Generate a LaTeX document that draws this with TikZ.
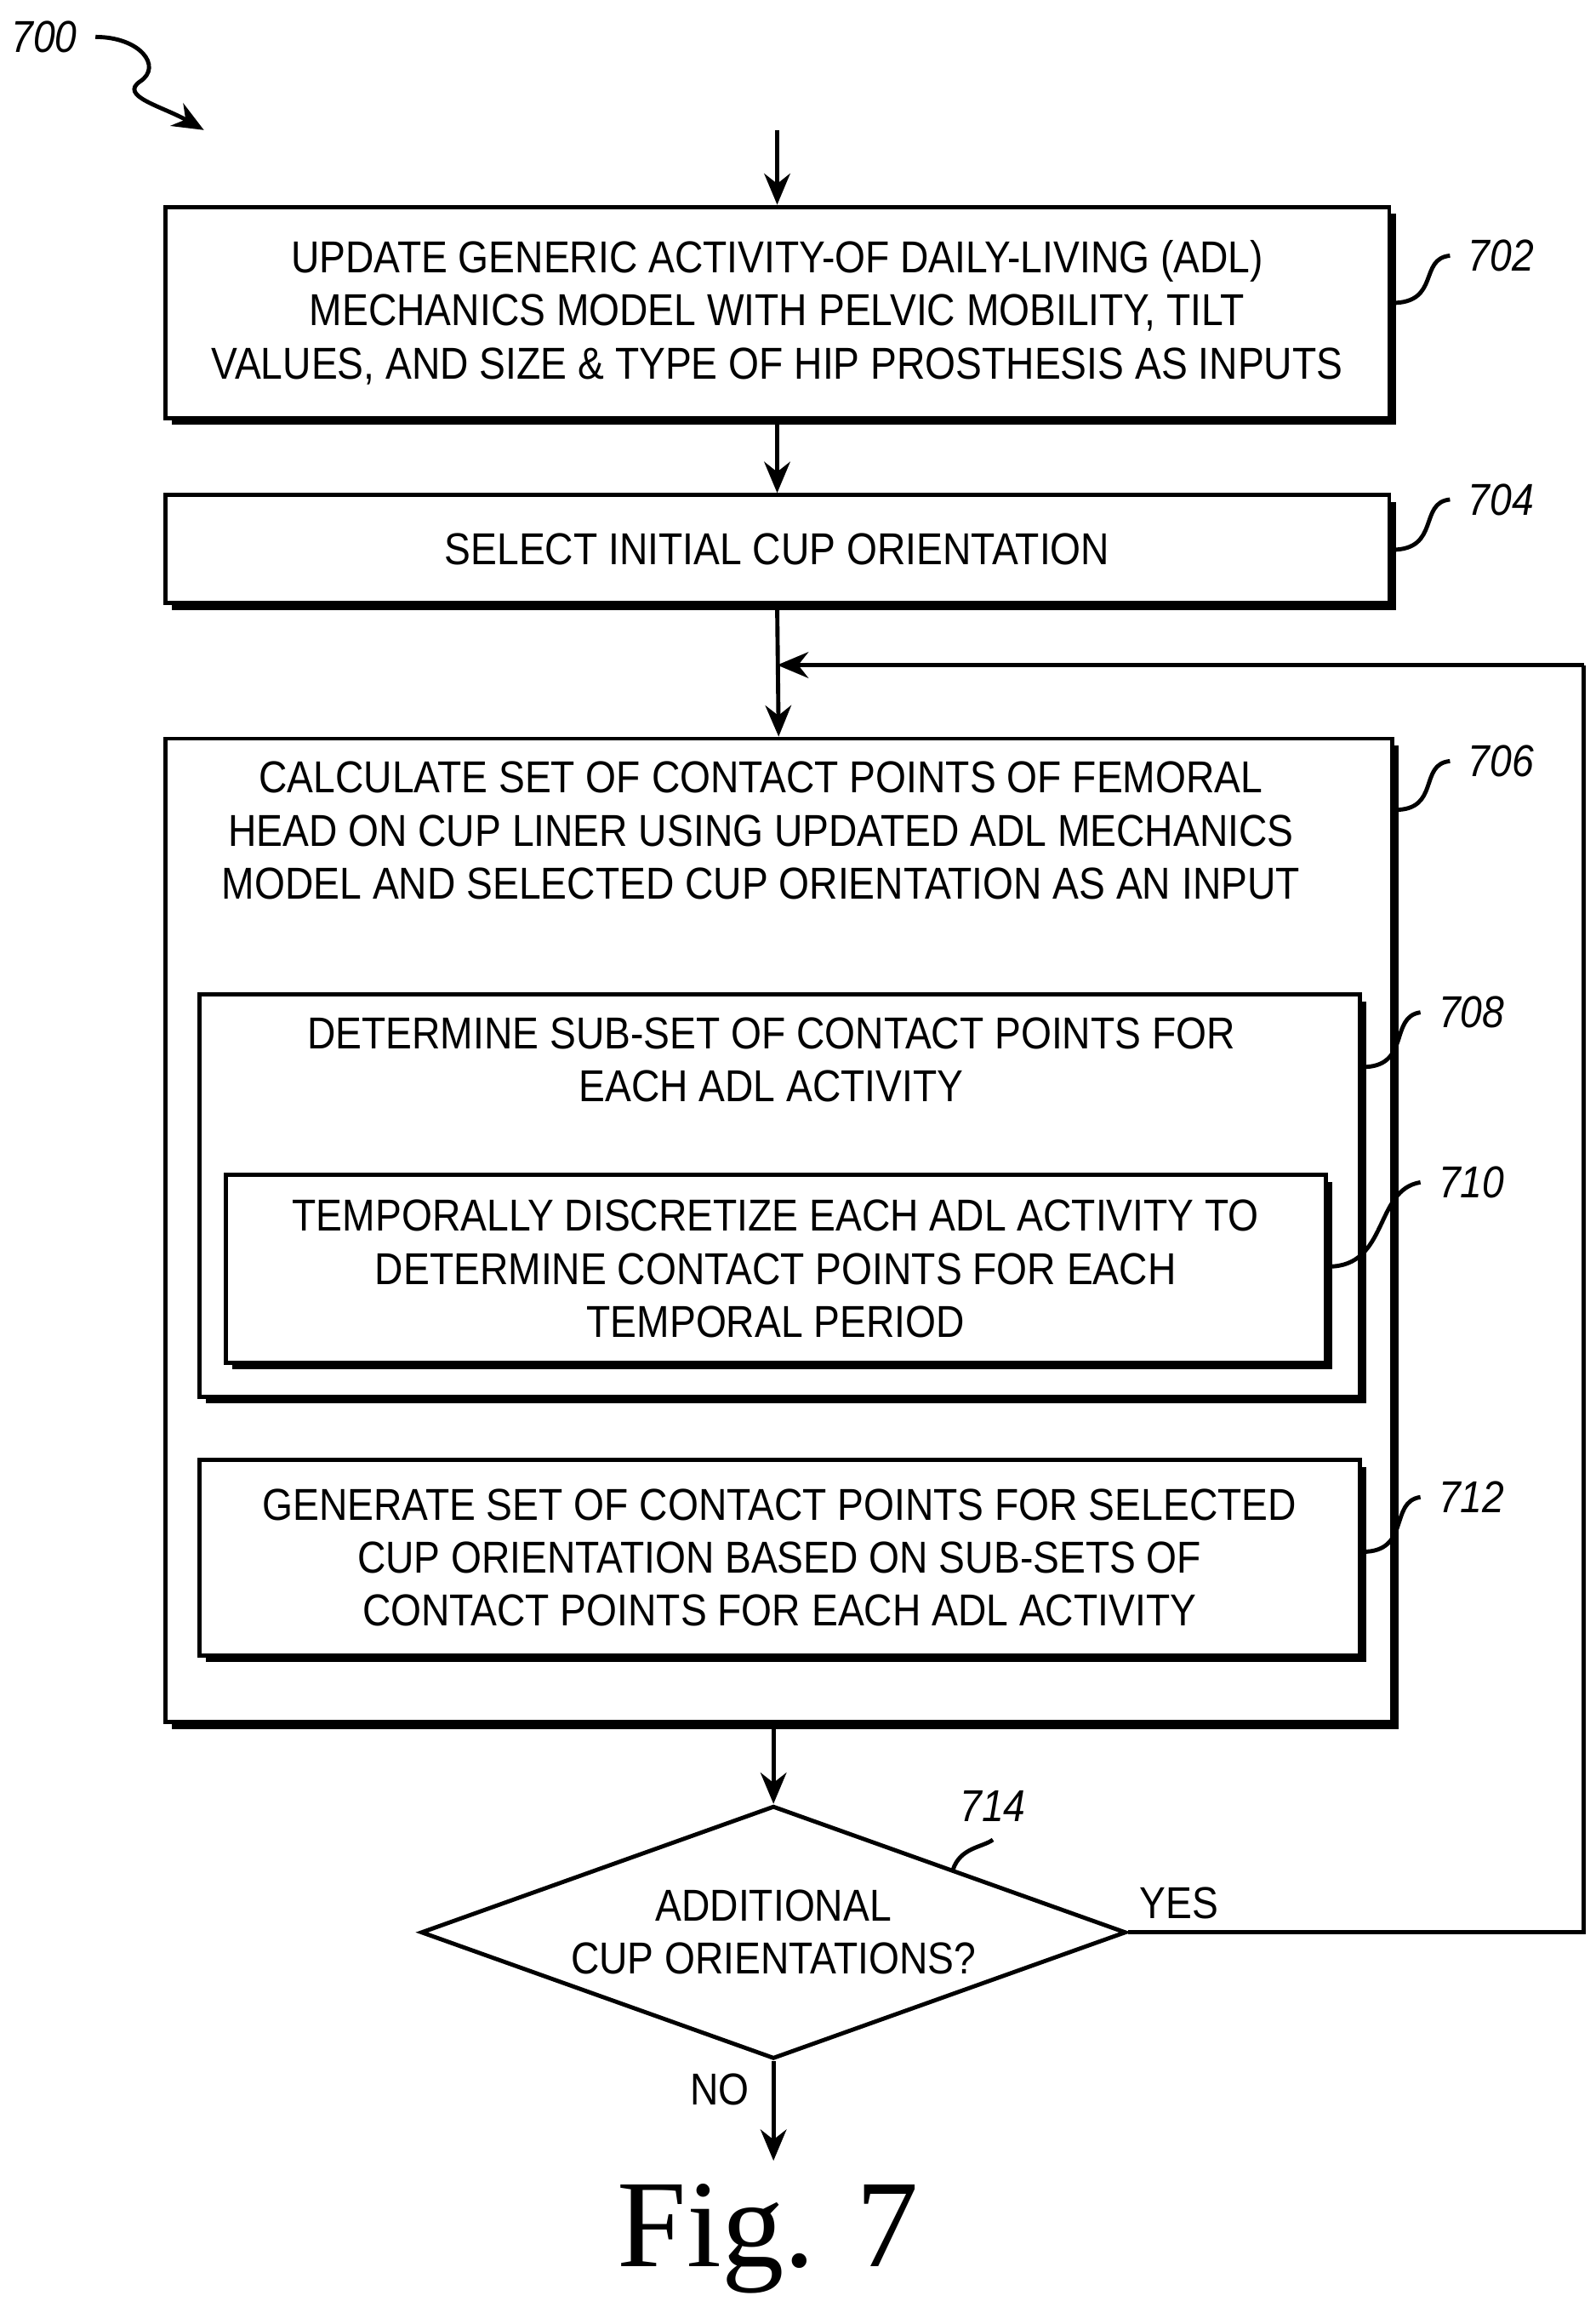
\documentclass[tikz,border=0pt]{standalone}
\usepackage{fontspec}
\setmainfont{Liberation Sans}[FakeStretch=0.88]
\newfontfamily\figfont{Liberation Serif}
\usetikzlibrary{shapes.geometric,shadows,arrows.meta}
\tikzset{
  box/.style={draw,thick,fill=white,rectangle,inner sep=0pt,
    drop shadow={shadow xshift=1.3pt,shadow yshift=-1.3pt,fill=black,opacity=1}},
  txt/.style={align=center,font=\fontsize{8.6}{10.2}\selectfont},
  ref/.style={font=\fontsize{8.6}{10}\selectfont\itshape},
  lead/.style={thick},
  flow/.style={thick,-{Stealth[length=6pt,width=5pt]}}
}
\begin{document}
\begin{tikzpicture}[x=0.01cm,y=-0.01cm]
\useasboundingbox (0,0) rectangle (1080,1561);
% boxes
\node[box,minimum width=8.28cm,minimum height=1.43cm] (b702) at (526,211.5) {};
\node[txt] at (b702) {UPDATE GENERIC ACTIVITY-OF DAILY-LIVING (ADL)\\MECHANICS MODEL WITH PELVIC MOBILITY, TILT\\VALUES, AND SIZE \& TYPE OF HIP PROSTHESIS AS INPUTS};
\node[box,minimum width=8.28cm,minimum height=0.73cm] (b704) at (526,371.5) {};
\node[txt] at (b704) {SELECT INITIAL CUP ORIENTATION};
\node[box,minimum width=8.30cm,minimum height=6.65cm] (b706) at (527,832.5) {};
\node[txt] (t706) at (515,562) {CALCULATE SET OF CONTACT POINTS OF FEMORAL\\HEAD ON CUP LINER USING UPDATED ADL MECHANICS\\MODEL AND SELECTED CUP ORIENTATION AS AN INPUT};
\node[box,minimum width=7.85cm,minimum height=2.72cm] (b708) at (527.5,809) {};
\node[txt] (t708) at (522,717) {DETERMINE SUB-SET OF CONTACT POINTS FOR\\EACH ADL ACTIVITY};
\node[box,minimum width=7.44cm,minimum height=1.27cm] (b710) at (525,858.5) {};
\node[txt] at (b710) {TEMPORALLY DISCRETIZE EACH ADL ACTIVITY TO\\DETERMINE CONTACT POINTS FOR EACH\\TEMPORAL PERIOD};
\node[box,minimum width=7.85cm,minimum height=1.32cm] (b712) at (527.5,1054) {};
\node[txt] at (b712) {GENERATE SET OF CONTACT POINTS FOR SELECTED\\CUP ORIENTATION BASED ON SUB-SETS OF\\CONTACT POINTS FOR EACH ADL ACTIVITY};
\node[diamond,draw,thick,minimum width=4.77cm,minimum height=1.71cm,inner sep=0pt] (d714) at (523.5,1307.5) {};
\node[txt] at (d714) {ADDITIONAL\\CUP ORIENTATIONS?};
% connectors
\coordinate (start) at (526,88);
\coordinate (loopin) at (526,450);
\coordinate (c1) at (1072,1307.5);
\coordinate (c2) at (1072,450);
\coordinate (endp) at (523.5,1462);
\draw[flow] (start) -- (b702.north);
\draw[flow] (b702.south) -- (b704.north);
\draw[flow] (b704.south) -- (b706.north);
\draw[flow] (b706.south -| d714.north) -- (d714.north);
\draw[thick] (d714.east) -- (c1) -- (c2);
\draw[flow] (c2) -- (loopin);
\draw[flow] (d714.south) -- (endp);
\node[txt] at (798,1288) {YES};
\node[txt] at (487,1414) {NO};
% reference numerals
\node[ref] (r700) at (30,25) {700};
\draw[lead,-{Stealth[length=6pt,width=5pt]}] (r700.east) .. controls (95,25) and (110,45) .. (95,55) .. controls (80,65) and (110,72) .. (138,88);
\node[ref] (r702) at (1016,173) {702};
\draw[lead] (942,205) .. controls (975,205) and (960,175) .. (r702.west);
\node[ref] (r704) at (1016,338) {704};
\draw[lead] (942,372) .. controls (975,372) and (960,340) .. (r704.west);
\node[ref] (r706) at (1016,515) {706};
\draw[lead] (944,548) .. controls (975,548) and (960,517) .. (r706.west);
\node[ref] (r708) at (996,685) {708};
\draw[lead] (922,722) .. controls (955,722) and (940,688) .. (r708.west);
\node[ref] (r710) at (996,800) {710};
\draw[lead] (899,857) .. controls (940,857) and (930,805) .. (r710.west);
\node[ref] (r712) at (996,1013) {712};
\draw[lead] (922,1050) .. controls (955,1050) and (940,1016) .. (r712.west);
\node[ref] (r714) at (672,1222) {714};
\draw[lead] (r714.south) .. controls (665,1250) and (650,1250) .. (645,1265);
\node[font=\figfont\fontsize{24}{24}\selectfont] (fig) at (520,1515) {Fig. 7};
\end{tikzpicture}
\end{document}
